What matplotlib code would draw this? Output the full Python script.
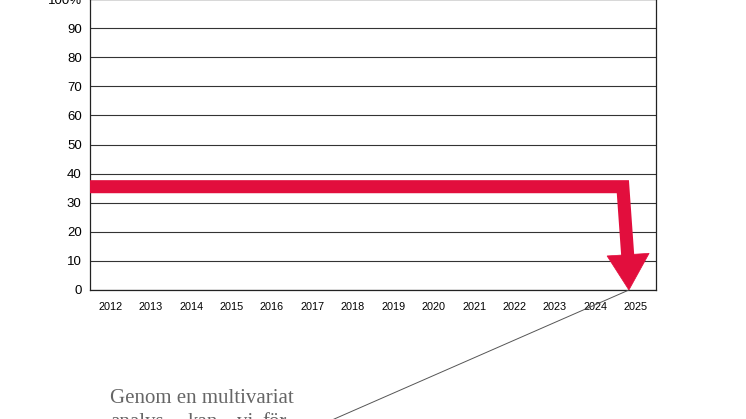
import matplotlib
matplotlib.use("Agg")
import matplotlib.pyplot as plt
from matplotlib.patches import Polygon

# ---- data ----
years = ["2012", "2013", "2014", "2015", "2016", "2017", "2018",
         "2019", "2020", "2021", "2022", "2023", "2024", "2025"]
y_ticks = [0, 10, 20, 30, 40, 50, 60, 70, 80, 90, 100]
y_tick_labels = ["0", "10", "20", "30", "40", "50", "60", "70", "80", "90", "100%"]
level = 35.5          # flat level of the red line
end_value = 0.0       # value the arrow points to (2025)
turn_x = 12.68        # category position where the line turns downward
tip_x = 12.83         # category position of the arrow tip
head_base = 12.0      # value at which the arrow head starts
head_half = 0.5       # half width of the arrow head (category units)
caption_line1 = "Genom en multivariat"
caption_line2 = ["analys", "kan", "vi", "för"]

RED = "#E20E3D"

fig = plt.figure(figsize=(7.46, 4.19), dpi=100)
W, H = 746, 419
ax = fig.add_axes([90 / W, 129 / H, 566 / W, 291 / H])

x = list(range(len(years)))
ax.set_xlim(-0.5, len(years) - 0.5)
ax.set_ylim(0, 100)
ax.set_xticks(x)
ax.set_xticklabels(years, fontsize=7.8, family="Liberation Sans")
ax.set_yticks(y_ticks)
ax.set_yticklabels(y_tick_labels, fontsize=9.5, family="Liberation Sans")
ax.tick_params(axis="both", length=0)
ax.tick_params(axis="y", pad=6)
ax.tick_params(axis="x", pad=9)
ax.grid(axis="y", color="#333333", linewidth=0.8)
ax.set_axisbelow(True)
for s in ax.spines.values():
    s.set_color("#222222")
    s.set_linewidth(0.9)

# red line with downward turn (shaft runs into the head)
ax.plot([-0.5, turn_x, tip_x - 0.01], [level, level, head_base - 4.0],
        color=RED, linewidth=9.4, solid_joinstyle="miter",
        solid_capstyle="butt", zorder=3, clip_on=False)
head = Polygon([[tip_x - head_half - 0.04, head_base - 0.3],
                [tip_x + head_half, head_base + 0.6],
                [tip_x, end_value]], closed=True,
               facecolor=RED, edgecolor=RED, linewidth=0.5, zorder=4)
ax.add_patch(head)

# thin connector from arrow tip to caption
ax.annotate("", xy=(tip_x, end_value), xycoords="data",
            xytext=(300 / W, -15 / H), textcoords="figure fraction",
            arrowprops=dict(arrowstyle="-", color="#555555", linewidth=0.7,
                            shrinkA=0, shrinkB=0), annotation_clip=False)

# caption text (serif, gray)
fig.text(110 / W, 1 - 403 / H, caption_line1, fontsize=15,
         family="Liberation Serif", color="#666666", va="baseline", ha="left")
xs = [110, 188, 237, 262]
for w, xp in zip(caption_line2, xs):
    fig.text(xp / W, 1 - 427 / H, w, fontsize=15,
             family="Liberation Serif", color="#666666", va="baseline", ha="left")

fig.savefig("out.png", dpi=100, facecolor="white")
